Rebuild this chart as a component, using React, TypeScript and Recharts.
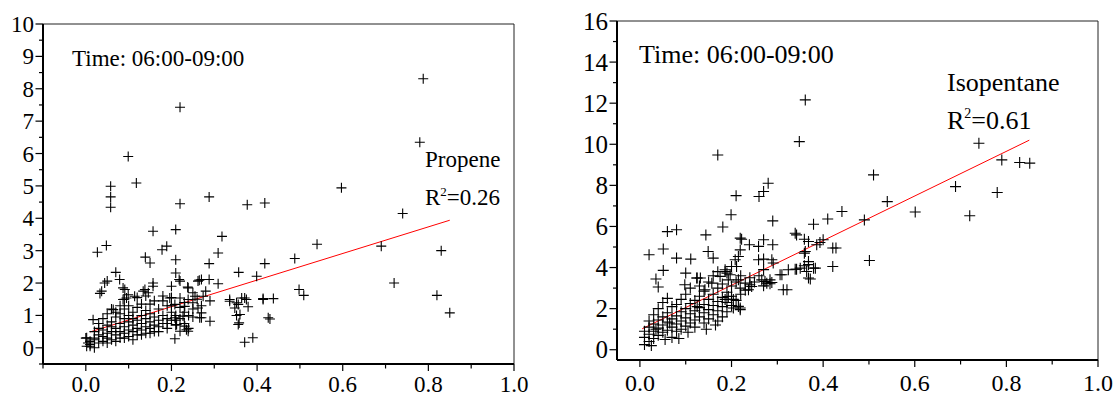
import { ScatterChart, Scatter, XAxis, YAxis, ReferenceLine } from 'recharts'

// x = (unlabelled ratio), y = concentration
const propenePoints: [number, number][] = [
  [0.788, 8.31], [0.22, 7.43], [0.099, 5.91], [0.118, 5.09], [0.058, 4.99], [0.058, 4.66], [0.058, 4.34],
  [0.78, 6.35], [0.597, 4.94], [0.418, 4.47], [0.74, 4.15], [0.54, 3.2], [0.69, 3.14], [0.83, 3.0],
  [0.418, 2.6], [0.488, 2.76], [0.72, 2.0], [0.498, 1.8], [0.509, 1.62], [0.82, 1.62], [0.85, 1.08],
  [0.414, 1.52], [0.438, 1.52], [0.43, 0.89], [0.288, 4.66], [0.22, 4.45], [0.377, 4.42], [0.157, 3.6],
  [0.21, 3.65], [0.318, 3.44], [0.027, 2.95], [0.048, 3.16], [0.139, 2.8], [0.15, 2.62], [0.178, 3.03],
  [0.189, 3.14], [0.21, 2.72], [0.309, 2.93], [0.288, 2.6], [0.21, 2.31], [0.07, 2.33], [0.079, 2.11],
  [0.05, 2.06], [0.044, 2.0], [0.037, 1.75], [0.033, 1.68], [0.357, 2.33], [0.399, 2.21], [0.22, 2.06],
  [0.265, 2.09], [0.288, 2.11], [0.309, 1.98], [0.238, 1.88], [0.25, 1.7], [0.091, 1.8], [0.114, 1.59],
  [0.095, 1.54], [0.157, 1.9], [0.134, 1.75], [0.336, 1.44], [0.356, 1.34], [0.371, 1.54], [0.379, 1.27],
  [0.352, 1.0], [0.358, 0.77], [0.371, 0.17], [0.39, 0.31], [0.266, 0.93], [0.29, 0.82], [0.208, 0.28],
  [0.235, 0.56], [0.087, 1.85], [0.099, 1.64], [0.087, 1.49], [0.157, 2.0], [0.138, 1.8], [0.146, 1.7],
  [0.064, 1.18], [0.017, 0.87], [0.002, 0.31], [0.005, 0.15], [0.002, 0.05], [0.218, 2.11], [0.239, 1.85],
  [0.262, 2.06], [0.27, 2.11], [0.2, 1.9], [0.196, 1.54], [0.22, 1.54], [0.239, 1.49], [0.255, 1.59],
  [0.274, 1.59], [0.208, 1.34], [0.231, 1.28], [0.25, 1.39], [0.262, 1.23], [0.27, 1.08], [0.27, 0.93],
  [0.227, 0.98], [0.208, 0.93], [0.212, 0.72], [0.231, 0.67], [0.239, 0.51], [0.22, 0.51], [0.336, 1.49],
  [0.352, 1.39], [0.364, 1.54], [0.375, 1.49], [0.348, 1.23], [0.36, 1.03], [0.356, 0.72], [0.414, 1.49],
  [0.426, 0.93],
  // dense cluster near the origin
  [0.01, 0.2], [0.01, 0.1], [0.02, 0.3], [0.02, 0.5], [0.02, 0.25], [0.03, 0.4], [0.03, 0.15], [0.03, 0.6],
  [0.04, 0.35], [0.04, 0.55], [0.04, 0.2], [0.04, 0.9], [0.05, 0.45], [0.05, 0.7], [0.05, 0.3], [0.05, 1.05],
  [0.06, 0.5], [0.06, 0.8], [0.06, 0.25], [0.06, 1.2], [0.07, 0.6], [0.07, 0.4], [0.07, 0.95], [0.07, 1.1],
  [0.08, 0.5], [0.08, 0.75], [0.08, 0.3], [0.08, 1.3], [0.09, 0.65], [0.09, 0.9], [0.09, 0.45], [0.09, 1.2],
  [0.1, 0.55], [0.1, 0.8], [0.1, 1.0], [0.1, 0.35], [0.11, 0.7], [0.11, 0.5], [0.11, 1.1], [0.11, 0.9],
  [0.12, 0.6], [0.12, 0.85], [0.12, 0.4], [0.12, 1.25], [0.13, 0.75], [0.13, 0.55], [0.13, 1.0], [0.14, 0.65],
  [0.14, 0.9], [0.14, 0.45], [0.14, 1.15], [0.15, 0.8], [0.15, 0.6], [0.15, 1.05], [0.15, 1.35], [0.16, 0.7],
  [0.16, 0.95], [0.16, 0.5], [0.17, 0.85], [0.17, 1.2], [0.17, 0.65], [0.18, 0.75], [0.18, 1.0], [0.18, 1.45],
  [0.19, 0.9], [0.19, 0.6], [0.19, 1.3], [0.2, 0.85], [0.2, 1.1], [0.2, 1.55], [0.21, 0.7], [0.21, 1.0],
  [0.22, 0.9], [0.22, 1.25], [0.23, 0.75], [0.23, 1.4], [0.24, 1.0], [0.24, 0.6], [0.25, 1.2], [0.26, 1.5],
  [0.27, 1.3], [0.28, 1.75], [0.29, 1.45], [0.12, 1.55], [0.09, 1.5], [0.14, 1.6], [0.18, 1.6], [0.2, 1.3],
  [0.16, 1.45], [0.13, 1.35], [0.01, 0.05], [0.0, 0.3], [0.02, 0.0], [0.03, 0.75], [0.05, 0.15],
  [0.07, 0.2], [0.09, 0.3], [0.11, 0.25], [0.13, 0.4], [0.15, 0.45], [0.17, 0.5], [0.19, 0.75],
  [0.21, 0.85], [0.23, 1.1], [0.25, 0.95], [0.1, 1.3], [0.08, 1.05], [0.06, 0.65],
]

const isopentanePoints: [number, number][] = [
  [0.361, 12.16], [0.348, 10.13], [0.17, 9.48], [0.28, 8.1], [0.27, 7.7], [0.26, 7.46], [0.21, 7.5],
  [0.74, 10.05], [0.79, 9.24], [0.829, 9.11], [0.851, 9.08], [0.51, 8.51], [0.689, 7.94], [0.78, 7.65],
  [0.54, 7.21], [0.441, 6.73], [0.601, 6.7], [0.72, 6.52], [0.49, 6.32], [0.421, 4.95], [0.428, 4.95],
  [0.501, 4.34], [0.421, 4.05], [0.199, 6.57], [0.29, 6.27], [0.41, 6.36], [0.379, 6.11], [0.339, 5.67],
  [0.219, 5.43], [0.239, 5.11], [0.259, 5.03], [0.27, 5.35], [0.29, 5.11], [0.359, 5.38], [0.368, 5.27],
  [0.393, 5.22], [0.4, 5.35], [0.359, 4.7], [0.219, 4.86], [0.215, 4.54], [0.259, 4.38], [0.27, 4.41],
  [0.288, 4.38], [0.291, 4.22], [0.339, 3.92], [0.35, 3.97], [0.359, 4.09], [0.368, 4.14], [0.379, 3.97],
  [0.372, 3.44], [0.31, 3.65], [0.313, 2.92], [0.321, 2.92], [0.273, 3.32], [0.288, 3.27], [0.27, 3.11],
  [0.23, 3.24], [0.24, 3.16], [0.237, 2.92], [0.244, 3.08], [0.219, 3.0], [0.215, 3.4], [0.19, 3.73],
  [0.197, 3.65], [0.193, 3.4], [0.208, 4.38], [0.211, 4.05], [0.2, 4.05], [0.186, 3.89], [0.193, 2.59],
  [0.204, 2.45], [0.215, 2.11], [0.219, 1.95], [0.186, 2.45], [0.181, 5.97], [0.144, 5.59], [0.06, 5.75],
  [0.08, 5.84], [0.02, 4.62], [0.051, 4.9], [0.08, 4.46], [0.111, 4.41], [0.149, 4.78], [0.16, 4.46],
  [0.222, 5.38], [0.051, 3.86], [0.035, 3.44], [0.04, 3.05], [0.1, 3.73], [0.098, 3.16], [0.124, 3.49],
  [0.142, 2.92], [0.157, 3.24], [0.175, 3.57], [0.186, 3.81], [0.342, 5.59], [0.386, 5.11], [0.361, 4.78],
  [0.324, 3.89], [0.342, 3.92], [0.368, 4.29], [0.383, 3.97], [0.364, 3.81], [0.368, 3.49], [0.306, 3.65],
  [0.266, 3.4], [0.284, 3.4], [0.277, 3.24], [0.284, 3.21], [0.204, 2.03], [0.219, 2.03], [0.125, 3.49],
  [0.132, 3.49],
  // dense cluster near the origin
  [0.01, 0.25], [0.01, 0.6], [0.01, 0.9], [0.02, 0.4], [0.02, 0.75], [0.02, 1.1], [0.02, 1.4], [0.03, 0.55],
  [0.03, 0.9], [0.03, 1.25], [0.03, 1.7], [0.04, 0.7], [0.04, 1.05], [0.04, 1.45], [0.04, 2.0], [0.05, 0.85],
  [0.05, 1.2], [0.05, 1.6], [0.05, 2.3], [0.06, 0.95], [0.06, 1.35], [0.06, 1.8], [0.06, 2.5], [0.07, 0.6],
  [0.07, 1.1], [0.07, 1.5], [0.07, 2.1], [0.08, 1.25], [0.08, 1.65], [0.08, 2.2], [0.08, 0.9], [0.09, 1.4],
  [0.09, 1.0], [0.09, 1.85], [0.09, 2.45], [0.1, 1.15], [0.1, 1.55], [0.1, 2.0], [0.1, 2.7], [0.11, 1.3],
  [0.11, 1.75], [0.11, 2.25], [0.11, 3.0], [0.12, 1.45], [0.12, 1.9], [0.12, 2.4], [0.12, 1.1], [0.13, 1.6],
  [0.13, 2.05], [0.13, 2.6], [0.13, 3.1], [0.14, 1.3], [0.14, 1.8], [0.14, 2.2], [0.14, 2.85], [0.15, 1.5],
  [0.15, 1.95], [0.15, 2.45], [0.15, 3.3], [0.16, 1.7], [0.16, 2.15], [0.16, 2.7], [0.16, 3.6], [0.17, 1.4],
  [0.17, 1.9], [0.17, 2.35], [0.17, 3.0], [0.17, 3.8], [0.18, 2.1], [0.18, 2.55], [0.18, 3.2], [0.18, 1.6],
  [0.19, 2.3], [0.19, 2.8], [0.19, 1.85], [0.2, 2.6], [0.2, 3.1], [0.2, 2.15], [0.21, 2.4], [0.21, 3.3],
  [0.22, 2.7], [0.22, 3.6], [0.23, 2.9], [0.24, 3.5], [0.25, 3.3], [0.26, 3.6], [0.27, 3.9], [0.025, 0.2],
  [0.035, 1.0], [0.055, 0.5], [0.065, 1.3], [0.085, 0.55], [0.105, 0.85], [0.125, 2.1], [0.145, 1.0],
  [0.165, 1.2],
]

// fitted lines, end points
const propeneFit = [{ x: 0.01, y: 0.49 }, { x: 0.85, y: 3.94 }]
const isopentaneFit = [{ x: 0.005, y: 1.02 }, { x: 0.85, y: 10.2 }]

// ticks
const propeneXTicks = [-0.1, 0, 0.1, 0.2, 0.3, 0.4, 0.5, 0.6, 0.7, 0.8, 0.9, 1.0]
const propeneYTicks = [-0.5, 0, 0.5, 1, 1.5, 2, 2.5, 3, 3.5, 4, 4.5, 5, 5.5, 6, 6.5, 7, 7.5, 8, 8.5, 9, 9.5, 10]
const isoXTicks = [0, 0.1, 0.2, 0.3, 0.4, 0.5, 0.6, 0.7, 0.8, 0.9, 1.0]
const isoYTicks = [0, 1, 2, 3, 4, 5, 6, 7, 8, 9, 10, 11, 12, 13, 14, 15, 16]

const FONT = 'Liberation Serif, DejaVu Serif, serif'

const toRows = (pts: [number, number][]) => pts.map(([x, y]) => ({ x, y }))

const plus = (s: number) => (props: any) => {
  const { cx, cy } = props
  if (cx == null || cy == null) return <g />
  return <path d={`M${cx - s},${cy}H${cx + s}M${cx},${cy - s}V${cy + s}`} stroke="#000" strokeWidth={1.1} fill="none" />
}

const xTick = (axisY: number, fontSize: number, gap: number) => (p: any) => {
  const v = p.payload.value
  const major = v >= 0 && Math.round(v * 10) % 2 === 0
  return (
    <g>
      <line x1={p.x} x2={p.x} y1={axisY} y2={axisY + (major ? 7 : 4.5)} stroke="#000" strokeWidth={1.2} />
      {major && (
        <text x={p.x} y={axisY + gap} textAnchor="middle" fill="#000" style={{ fontFamily: FONT, fontSize }}>
          {v.toFixed(1)}
        </text>
      )}
    </g>
  )
}

const yTick = (axisX: number, fontSize: number, step: number) => (p: any) => {
  const v = p.payload.value
  const major = v >= 0 && Math.abs(v / step - Math.round(v / step)) < 1e-6
  return (
    <g>
      <line x1={axisX} x2={axisX - (major ? 7.5 : 4)} y1={p.y} y2={p.y} stroke="#000" strokeWidth={1.2} />
      {major && (
        <text x={axisX - 9} y={p.y} dy="0.35em" textAnchor="end" fill="#000" style={{ fontFamily: FONT, fontSize }}>
          {v}
        </text>
      )}
    </g>
  )
}

const txt = (size: number) => ({ fontFamily: FONT, fontSize: size })

export default function App() {
  return (
    <div style={{ position: 'absolute', left: 0, top: 0, width: 1114, height: 396, background: '#fff', fontFamily: FONT }}>
      {/* Propene panel */}
      <div style={{ position: 'absolute', left: 0, top: 0 }}>
        <ScatterChart width={557} height={396} margin={{ top: 24, right: 43, bottom: 0, left: 0 }}>
          <XAxis type="number" dataKey="x" domain={[-0.1, 1]} ticks={propeneXTicks} interval={0}
            allowDataOverflow height={32} axisLine={{ stroke: '#000', strokeWidth: 2 }} tickLine={false}
            tick={xTick(364, 23, 28)} />
          <YAxis type="number" dataKey="y" domain={[-0.5, 10]} ticks={propeneYTicks} interval={0}
            allowDataOverflow width={43} axisLine={{ stroke: '#000', strokeWidth: 2 }} tickLine={false}
            tick={yTick(43, 23, 1)} />
          <ReferenceLine y={10} stroke="#222" strokeWidth={1} />
          <ReferenceLine x={1} stroke="#222" strokeWidth={1} />
          <ReferenceLine segment={propeneFit} stroke="#ff0000" strokeWidth={1} />
          <Scatter data={toRows(propenePoints)} shape={plus(5)} isAnimationActive={false} />
        </ScatterChart>
        <svg width={557} height={396} style={{ position: 'absolute', left: 0, top: 0, pointerEvents: 'none' }}>
          <text x={72} y={66} fill="#000" style={txt(23)}>Time: 06:00-09:00</text>
          <text x={425} y={167} fill="#000" style={txt(23)}>Propene</text>
          <text x={425} y={205} fill="#000" style={txt(23)}>
            R<tspan dy={-9} style={txt(13)}>2</tspan><tspan dy={9} style={txt(23)}>=0.26</tspan>
          </text>
        </svg>
      </div>

      {/* Isopentane panel */}
      <div style={{ position: 'absolute', left: 557, top: 0 }}>
        <ScatterChart width={557} height={396} margin={{ top: 21, right: 16, bottom: 0, left: 0 }}>
          <XAxis type="number" dataKey="x" domain={[-0.05, 1]} ticks={isoXTicks} interval={0}
            allowDataOverflow height={36} axisLine={{ stroke: '#000', strokeWidth: 2 }} tickLine={false}
            tick={xTick(360, 24, 31)} />
          <YAxis type="number" dataKey="y" domain={[-0.5, 16]} ticks={isoYTicks} interval={0}
            allowDataOverflow width={60} axisLine={{ stroke: '#000', strokeWidth: 2 }} tickLine={false}
            tick={yTick(60, 25, 2)} />
          <ReferenceLine y={16} stroke="#222" strokeWidth={1} />
          <ReferenceLine x={1} stroke="#222" strokeWidth={1} />
          <ReferenceLine segment={isopentaneFit} stroke="#ff0000" strokeWidth={1} />
          <Scatter data={toRows(isopentanePoints)} shape={plus(5.5)} isAnimationActive={false} />
        </ScatterChart>
        <svg width={557} height={396} style={{ position: 'absolute', left: 0, top: 0, pointerEvents: 'none' }}>
          <text x={82} y={63} fill="#000" style={txt(26)}>Time: 06:00-09:00</text>
          <text x={390} y={91} fill="#000" style={txt(26)}>Isopentane</text>
          <text x={390} y={129} fill="#000" style={txt(26)}>
            R<tspan dy={-11} style={txt(14)}>2</tspan><tspan dy={11} style={txt(26)}>=0.61</tspan>
          </text>
        </svg>
      </div>
    </div>
  )
}
